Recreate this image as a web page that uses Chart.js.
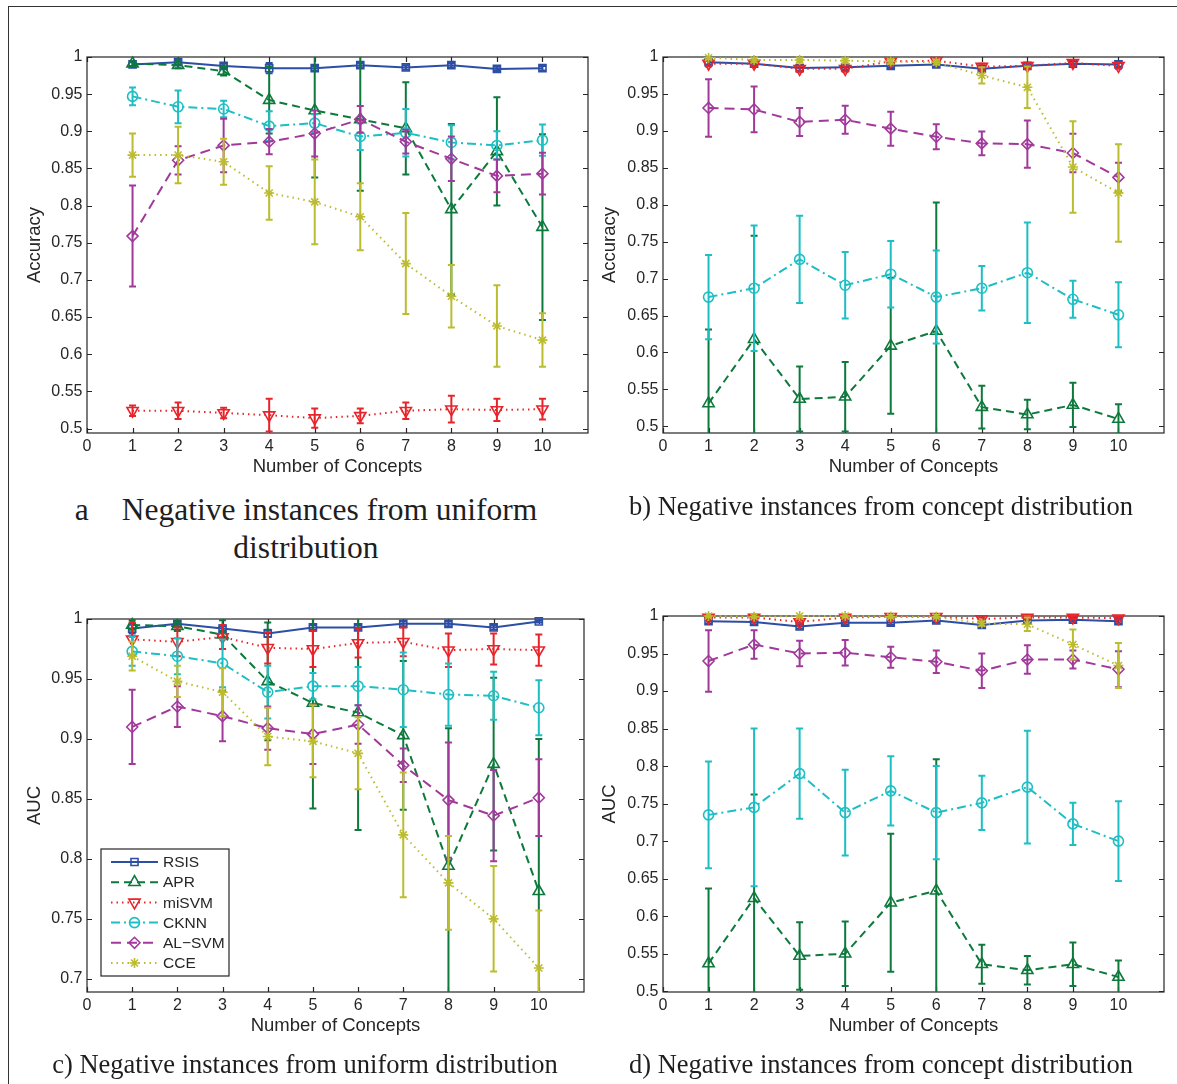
<!DOCTYPE html>
<html>
<head>
<meta charset="utf-8">
<script src="https://cdn.jsdelivr.net/npm/chart.js@4.4.1/dist/chart.umd.min.js"></script>
<style>
  html, body { margin: 0; padding: 0; background: #fff; }
  body { width: 1177px; height: 1084px; position: relative; overflow: hidden; }
  #frame { position: absolute; left: 8px; top: 6px; width: 1220px; height: 1120px;
           border-left: 1.5px solid #333; border-top: 1.5px solid #333; }
  canvas { position: absolute; }
  .caption { position: absolute; color: #1e1e1e; white-space: nowrap; text-align: center;
             font-family: "Liberation Serif", "Times New Roman", serif; transform: translateX(-50%); }
  .small { font-size: 26.5px; line-height: 30px; }
  .big { font-size: 31.5px; line-height: 38px; }
</style>
</head>
<body>
<div id="frame"></div>

<canvas id="panelA" width="600" height="460" style="left:0px;top:30px"></canvas>
<canvas id="panelB" width="597" height="460" style="left:580px;top:30px"></canvas>
<canvas id="panelC" width="600" height="460" style="left:0px;top:590px"></canvas>
<canvas id="panelD" width="597" height="460" style="left:580px;top:590px"></canvas>

<div class="caption big" style="left:306px;top:491px">a<span style="margin-left:33px">Negative instances from uniform</span><br>distribution</div>
<div class="caption small" style="left:881px;top:491px">b) Negative instances from concept distribution</div>
<div class="caption small" style="left:305px;top:1049px">c) Negative instances from uniform distribution</div>
<div class="caption small" style="left:881px;top:1049px">d) Negative instances from concept distribution</div>

<script>
const concepts = [1, 2, 3, 4, 5, 6, 7, 8, 9, 10];
const methods = ['RSIS', 'APR', 'miSVM', 'CKNN', 'AL\u2212SVM', 'CCE'];
const xTicks = [0, 1, 2, 3, 4, 5, 6, 7, 8, 9, 10];
const yTicksHalf = [0.5, 0.55, 0.6, 0.65, 0.7, 0.75, 0.8, 0.85, 0.9, 0.95, 1];
const yTicksUpper = [0.7, 0.75, 0.8, 0.85, 0.9, 0.95, 1];

// rows follow the order of `methods`
const accUniformMean = [
    [0.990, 0.993, 0.988, 0.985, 0.985, 0.989, 0.986, 0.989, 0.984, 0.985],
    [0.991, 0.989, 0.981, 0.942, 0.928, 0.916, 0.904, 0.795, 0.873, 0.771],
    [0.524, 0.524, 0.521, 0.518, 0.514, 0.517, 0.524, 0.526, 0.525, 0.526],
    [0.947, 0.933, 0.930, 0.907, 0.911, 0.893, 0.898, 0.885, 0.881, 0.888],
    [0.759, 0.861, 0.881, 0.886, 0.897, 0.916, 0.886, 0.863, 0.840, 0.843],
    [0.868, 0.868, 0.859, 0.817, 0.805, 0.785, 0.722, 0.678, 0.638, 0.619]
];
const accUniformErr = [
    [0.003, 0.003, 0.003, 0.007, 0.003, 0.003, 0.003, 0.003, 0.003, 0.003],
    [0.003, 0.004, 0.006, 0.045, 0.090, 0.096, 0.062, 0.115, 0.073, 0.125],
    [0.007, 0.011, 0.007, 0.022, 0.013, 0.010, 0.011, 0.018, 0.015, 0.014],
    [0.012, 0.022, 0.011, 0.020, 0.012, 0.018, 0.032, 0.023, 0.019, 0.021],
    [0.068, 0.019, 0.036, 0.017, 0.031, 0.018, 0.016, 0.030, 0.022, 0.028],
    [0.029, 0.038, 0.031, 0.036, 0.057, 0.045, 0.068, 0.042, 0.055, 0.036]
];

const accConceptMean = [
    [0.993, 0.991, 0.985, 0.986, 0.988, 0.990, 0.984, 0.988, 0.991, 0.990],
    [0.531, 0.618, 0.537, 0.540, 0.609, 0.629, 0.526, 0.516, 0.529, 0.510],
    [0.991, 0.991, 0.984, 0.984, 0.994, 0.995, 0.987, 0.988, 0.992, 0.988],
    [0.675, 0.687, 0.726, 0.691, 0.706, 0.675, 0.687, 0.708, 0.672, 0.651],
    [0.931, 0.929, 0.912, 0.915, 0.903, 0.892, 0.883, 0.882, 0.870, 0.837],
    [0.999, 0.996, 0.996, 0.995, 0.994, 0.993, 0.975, 0.959, 0.851, 0.816]
];
const accConceptErr = [
    [0.003, 0.003, 0.004, 0.003, 0.003, 0.003, 0.003, 0.003, 0.003, 0.003],
    [0.100, 0.140, 0.044, 0.047, 0.092, 0.174, 0.029, 0.020, 0.030, 0.020],
    [0.004, 0.004, 0.004, 0.004, 0.004, 0.004, 0.004, 0.004, 0.004, 0.004],
    [0.057, 0.085, 0.059, 0.045, 0.045, 0.063, 0.030, 0.068, 0.025, 0.044],
    [0.039, 0.031, 0.019, 0.019, 0.023, 0.017, 0.016, 0.032, 0.026, 0.020],
    [0.002, 0.003, 0.003, 0.003, 0.003, 0.003, 0.011, 0.028, 0.062, 0.066]
];

const aucUniformMean = [
    [0.992, 0.996, 0.992, 0.988, 0.993, 0.993, 0.996, 0.996, 0.993, 0.998],
    [0.995, 0.994, 0.987, 0.948, 0.930, 0.922, 0.903, 0.794, 0.879, 0.773],
    [0.983, 0.981, 0.985, 0.976, 0.975, 0.980, 0.981, 0.974, 0.975, 0.974],
    [0.973, 0.969, 0.963, 0.939, 0.944, 0.944, 0.941, 0.937, 0.936, 0.926],
    [0.910, 0.927, 0.919, 0.909, 0.904, 0.912, 0.878, 0.849, 0.836, 0.851],
    [0.969, 0.948, 0.939, 0.902, 0.898, 0.888, 0.820, 0.780, 0.750, 0.709]
];
const aucUniformErr = [
    [0.004, 0.002, 0.002, 0.003, 0.002, 0.002, 0.002, 0.002, 0.002, 0.001],
    [0.004, 0.004, 0.012, 0.049, 0.088, 0.098, 0.062, 0.115, 0.072, 0.127],
    [0.014, 0.012, 0.010, 0.013, 0.015, 0.012, 0.012, 0.014, 0.013, 0.013],
    [0.012, 0.015, 0.020, 0.022, 0.011, 0.016, 0.031, 0.026, 0.020, 0.023],
    [0.031, 0.017, 0.021, 0.018, 0.025, 0.016, 0.014, 0.048, 0.038, 0.032],
    [0.012, 0.013, 0.020, 0.024, 0.030, 0.030, 0.052, 0.039, 0.044, 0.048]
];

const aucConceptMean = [
    [0.993, 0.992, 0.986, 0.991, 0.991, 0.994, 0.988, 0.994, 0.995, 0.993],
    [0.537, 0.624, 0.547, 0.550, 0.618, 0.634, 0.536, 0.528, 0.536, 0.519],
    [0.998, 0.998, 0.992, 0.998, 0.999, 0.999, 0.996, 0.998, 0.998, 0.997],
    [0.735, 0.745, 0.790, 0.738, 0.767, 0.738, 0.751, 0.772, 0.723, 0.700],
    [0.940, 0.962, 0.950, 0.951, 0.945, 0.939, 0.927, 0.942, 0.942, 0.929],
    [1.000, 0.999, 1.000, 1.000, 0.999, 0.999, 0.990, 0.989, 0.962, 0.934]
];
const aucConceptErr = [
    [0.003, 0.003, 0.003, 0.003, 0.003, 0.003, 0.003, 0.003, 0.003, 0.003],
    [0.100, 0.138, 0.045, 0.043, 0.092, 0.175, 0.026, 0.019, 0.029, 0.022],
    [0.002, 0.002, 0.002, 0.002, 0.002, 0.002, 0.002, 0.002, 0.002, 0.002],
    [0.071, 0.105, 0.060, 0.057, 0.046, 0.062, 0.036, 0.075, 0.028, 0.053],
    [0.041, 0.019, 0.017, 0.017, 0.014, 0.015, 0.023, 0.019, 0.012, 0.024],
    [0.001, 0.001, 0.001, 0.001, 0.001, 0.001, 0.003, 0.009, 0.020, 0.030]
];

// Line and marker look of each method
const seriesStyle = [
    { color: '#2c4ea4', dash: [],            point: 'rect',     radius: 5,   rotation: 0 },
    { color: '#0d7a3c', dash: [8, 5],        point: 'triangle', radius: 6.5, rotation: 0 },
    { color: '#e8242b', dash: [1.5, 4],      point: 'triangle', radius: 6.5, rotation: 180 },
    { color: '#1dbfc4', dash: [9, 4, 2, 4],  point: 'circle',   radius: 5,   rotation: 0 },
    { color: '#a1399b', dash: [10, 6],       point: 'rectRot',  radius: 5.5, rotation: 0 },
    { color: '#bcbc30', dash: [1.5, 4],      point: 'star',     radius: 5,   rotation: 0 }
];

const tickFont = { family: 'Liberation Sans', size: 16 };
const titleFont = { family: 'Liberation Sans', size: 18.5 };
const inkColor = '#262626';

// Vertical error bars with caps, clipped to the axes box
const errorBarPlugin = {
    id: 'errorBars',
    beforeDatasetDraw(chart, args) {
        const ds = chart.data.datasets[args.index];
        if (!ds.errors) return;
        const { ctx, chartArea } = chart;
        const xs = chart.scales.x, ys = chart.scales.y;
        const cap = 3.5;
        ctx.save();
        ctx.beginPath();
        ctx.rect(chartArea.left, chartArea.top, chartArea.right - chartArea.left, chartArea.bottom - chartArea.top);
        ctx.clip();
        ctx.strokeStyle = ds.borderColor;
        ctx.lineWidth = 2;
        ctx.setLineDash([]);
        ds.data.forEach((pt, k) => {
            const x = xs.getPixelForValue(pt.x);
            const yTop = ys.getPixelForValue(pt.y + ds.errors[k]);
            const yBot = ys.getPixelForValue(pt.y - ds.errors[k]);
            ctx.beginPath();
            ctx.moveTo(x, yTop); ctx.lineTo(x, yBot);
            ctx.moveTo(x - cap, yTop); ctx.lineTo(x + cap, yTop);
            ctx.moveTo(x - cap, yBot); ctx.lineTo(x + cap, yBot);
            ctx.stroke();
        });
        ctx.restore();
    }
};

// Axes box with inward tick marks on all four sides
const boxPlugin = {
    id: 'axesBox',
    beforeDatasetsDraw(chart) {
        const { ctx, chartArea: a } = chart;
        const xs = chart.scales.x, ys = chart.scales.y;
        const len = 5;
        ctx.save();
        ctx.strokeStyle = inkColor;
        ctx.lineWidth = 1.2;
        ctx.strokeRect(a.left, a.top, a.right - a.left, a.bottom - a.top);
        ctx.beginPath();
        xs.ticks.forEach(t => {
            const x = Math.round(xs.getPixelForValue(t.value)) + 0.5;
            ctx.moveTo(x, a.bottom); ctx.lineTo(x, a.bottom - len);
            ctx.moveTo(x, a.top); ctx.lineTo(x, a.top + len);
        });
        ys.ticks.forEach(t => {
            const y = Math.round(ys.getPixelForValue(t.value)) + 0.5;
            ctx.moveTo(a.left, y); ctx.lineTo(a.left + len, y);
            ctx.moveTo(a.right, y); ctx.lineTo(a.right - len, y);
        });
        ctx.stroke();
        ctx.restore();
    }
};

// Boxed legend in the lower left corner of the axes
const boxLegendPlugin = {
    id: 'boxLegend',
    afterDraw(chart, args, opts) {
        if (!opts.show) return;
        const { ctx, chartArea: a } = chart;
        const left = a.left + 14, top = a.bottom - 143, w = 128, h = 127;
        ctx.save();
        ctx.fillStyle = '#fff';
        ctx.fillRect(left, top, w, h);
        ctx.strokeStyle = inkColor;
        ctx.lineWidth = 1.2;
        ctx.strokeRect(left, top, w, h);
        chart.data.datasets.forEach((ds, i) => {
            const y = top + 13 + i * 20.2;
            ctx.strokeStyle = ds.borderColor;
            ctx.lineWidth = 2;
            ctx.setLineDash(ds.borderDash);
            ctx.beginPath();
            ctx.moveTo(left + 10, y);
            ctx.lineTo(left + 57, y);
            ctx.stroke();
            ctx.setLineDash([]);
            ctx.fillStyle = 'rgba(0,0,0,0)';
            ctx.lineWidth = ds.pointBorderWidth;
            Chart.helpers.drawPoint(ctx, {
                pointStyle: ds.pointStyle, radius: ds.pointRadius,
                rotation: ds.pointRotation, borderWidth: ds.pointBorderWidth
            }, left + 33.5, y);
            ctx.fillStyle = inkColor;
            ctx.font = '15.5px "Liberation Sans"';
            ctx.textBaseline = 'middle';
            ctx.fillText(ds.label, left + 62, y + 1);
        });
        ctx.restore();
    }
};

function makePanel(id, cfg) {
    const canvas = document.getElementById(id);
    const datasets = methods.map((name, i) => {
        const st = seriesStyle[i];
        return {
            label: name,
            data: concepts.map((c, k) => ({ x: c, y: cfg.mean[i][k] })),
            errors: cfg.err[i],
            borderColor: st.color,
            borderWidth: 2,
            borderDash: st.dash,
            pointStyle: st.point,
            pointRadius: st.radius,
            pointRotation: st.rotation,
            pointBorderColor: st.color,
            pointBackgroundColor: 'rgba(0,0,0,0)',
            pointBorderWidth: 1.6,
            tension: 0,
            fill: false,
            clip: 10,
            order: methods.length - i
        };
    });

    return new Chart(canvas, {
        type: 'line',
        data: { datasets },
        options: {
            responsive: false,
            animation: false,
            devicePixelRatio: 1,
            events: [],
            layout: { padding: { top: cfg.padTop, right: canvas.width - cfg.areaRight, left: 0, bottom: 0 } },
            plugins: {
                legend: { display: false },
                tooltip: { enabled: false },
                boxLegend: { show: !!cfg.legend }
            },
            scales: {
                x: {
                    type: 'linear',
                    min: 0,
                    max: 11,
                    afterBuildTicks: s => { s.ticks = xTicks.map(v => ({ value: v })); },
                    afterFit: s => { s.height = cfg.xAxisHeight; },
                    grid: { display: false, drawTicks: false },
                    border: { display: false },
                    ticks: { padding: 4, font: tickFont, color: inkColor, autoSkip: false, maxRotation: 0,
                             callback: v => String(v) },
                    title: { display: true, text: 'Number of Concepts', font: titleFont, color: inkColor,
                             padding: { top: 0, bottom: cfg.xTitlePad } }
                },
                y: {
                    type: 'linear',
                    min: cfg.yMin,
                    max: 1,
                    afterBuildTicks: s => { s.ticks = cfg.yTicks.map(v => ({ value: v })); },
                    afterFit: s => { s.width = cfg.yAxisWidth; },
                    grid: { display: false, drawTicks: false },
                    border: { display: false },
                    ticks: { padding: 4.5, font: tickFont, color: inkColor, autoSkip: false,
                             callback: v => String(+v.toFixed(2)) },
                    title: { display: true, text: cfg.yLabel, font: titleFont, color: inkColor,
                             padding: { top: cfg.yTitlePad, bottom: 0 } }
                }
            }
        },
        plugins: [boxPlugin, errorBarPlugin, boxLegendPlugin]
    });
}

document.addEventListener('DOMContentLoaded', () => {
    makePanel('panelA', {
        mean: accUniformMean, err: accUniformErr, yLabel: 'Accuracy', yMin: 0.494, yTicks: yTicksHalf,
        padTop: 27, areaRight: 588, yAxisWidth: 87, xAxisHeight: 57, xTitlePad: 12, yTitlePad: 23.4
    });
    makePanel('panelB', {
        mean: accConceptMean, err: accConceptErr, yLabel: 'Accuracy', yMin: 0.491, yTicks: yTicksHalf,
        padTop: 27, areaRight: 584, yAxisWidth: 83, xAxisHeight: 57, xTitlePad: 12, yTitlePad: 19
    });
    makePanel('panelC', {
        mean: aucUniformMean, err: aucUniformErr, yLabel: 'AUC', yMin: 0.689, yTicks: yTicksUpper,
        padTop: 29, areaRight: 584, yAxisWidth: 87, xAxisHeight: 58, xTitlePad: 13, yTitlePad: 23.4,
        legend: true
    });
    makePanel('panelD', {
        mean: aucConceptMean, err: aucConceptErr, yLabel: 'AUC', yMin: 0.499, yTicks: yTicksHalf,
        padTop: 26, areaRight: 584, yAxisWidth: 83, xAxisHeight: 58, xTitlePad: 13, yTitlePad: 19
    });
});
</script>
</body>
</html>
